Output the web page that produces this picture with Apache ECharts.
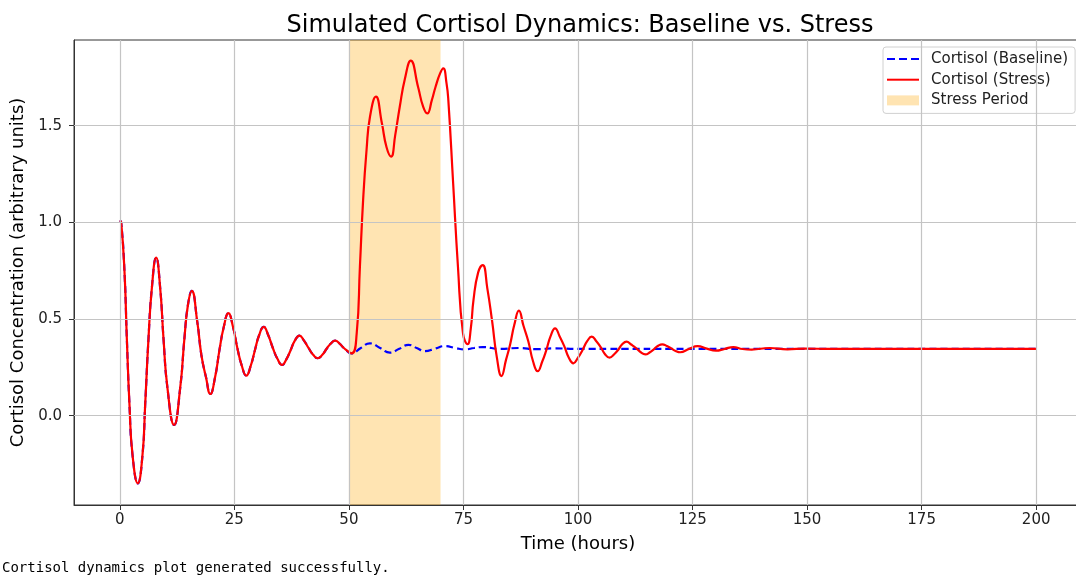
<!DOCTYPE html>
<html>
<head>
<meta charset="utf-8">
<title>Cortisol dynamics</title>
<script src="https://cdn.jsdelivr.net/npm/echarts@6/dist/echarts.min.js"></script>
<style>
html, body { margin: 0; padding: 0; background: #fff; }
#main { width: 1076px; height: 578px; }
</style>
</head>
<body>
<div id="main"></div>
<script>
// readings from the plot: time in hours, concentration in arbitrary units
// first 50 h both runs are the same curve
var sharedTimes = [0, 0.3, 1.02, 1.53, 2.11, 2.77, 3.93, 4.95, 5.53, 6.26, 6.99, 7.93, 8.81, 9.53, 10.4,
    11.85, 13.17, 14.1, 14.85, 15.7, 16.9, 17.8, 18.8, 19.75, 20.8, 21.75, 22.7, 23.7, 24.7, 25.65,
    26.6, 27.6, 28.6, 29.5, 30.4, 31.4, 32.4, 33.4, 34.4, 35.4, 36.4, 37.3, 38.2, 39.2, 40.2, 41.2,
    42.2, 43.2, 44.2, 45.1, 46.0, 47.0, 48.0, 48.9, 50.6];
var sharedVals = [1.01, 1.0, 0.745, 0.40, 0.055, -0.203, -0.35, -0.203, 0.055, 0.40, 0.66, 0.817, 0.66, 0.40, 0.142,
    -0.048, 0.142, 0.40, 0.57, 0.645, 0.486, 0.314, 0.2, 0.112, 0.2, 0.34, 0.46, 0.53, 0.46, 0.35,
    0.26, 0.207, 0.26, 0.34, 0.416, 0.459, 0.416, 0.35, 0.294, 0.262, 0.294, 0.34, 0.388, 0.414, 0.388, 0.35,
    0.315, 0.297, 0.315, 0.345, 0.372, 0.388, 0.372, 0.35, 0.322];

var baselineTimes = [52.6, 54.6, 56.8, 58.95, 61.0, 63.0, 64.8, 66.6, 68.8, 71.0, 73.2, 75.4, 77.3, 79.2,
    83, 87, 91, 95, 100, 110, 120, 140, 160, 180, 200];
var baselineVals = [0.35, 0.374, 0.35, 0.326, 0.346, 0.366, 0.35, 0.334, 0.347, 0.36, 0.35, 0.343, 0.35, 0.355,
    0.345, 0.35, 0.344, 0.348, 0.345, 0.346, 0.345, 0.345, 0.345, 0.345, 0.345];

var stressTimes = [51.7, 52.4, 53.1, 53.85, 54.6, 55.9, 57.2, 58.2, 59.2, 60.1, 61.1, 62.2, 63.5, 65.1,
    66.2, 67.1, 68.1, 68.9, 69.9, 70.6, 71.3, 71.7, 72.75, 73.8, 74.9, 75.9, 76.6, 77.2, 78.2, 79.2,
    80.2, 81.25, 82.3, 83.3, 84.3, 85.2, 86.1, 87.1, 88.1, 89.15, 90.2, 91.2, 92.2, 93.1, 94.0, 95.0,
    96.0, 97.0, 98.0, 99.0, 100.0, 101.0, 102.0, 103.0, 104.0, 104.95, 105.9, 106.9, 107.9, 108.75,
    109.6, 110.6, 111.6, 112.65, 113.7, 114.7, 115.7, 116.55, 117.4, 118.4, 119.4, 120.35, 121.3,
    122.3, 124.2, 126.1, 128.1, 130.1, 132.0, 133.9, 135.9, 137.9, 141.8, 145.7, 149.6, 155, 170, 185, 200];
var stressVals = [0.426, 0.77, 1.115, 1.374, 1.546, 1.65, 1.512, 1.39, 1.34, 1.45, 1.598, 1.74, 1.836, 1.70,
    1.598, 1.563, 1.632, 1.70, 1.77, 1.796, 1.72, 1.632, 1.202, 0.77, 0.426, 0.37, 0.45, 0.6, 0.74, 0.779,
    0.66, 0.49, 0.30, 0.205, 0.29, 0.37, 0.47, 0.543, 0.465, 0.385, 0.28, 0.23, 0.28, 0.34, 0.41, 0.452,
    0.41, 0.36, 0.30, 0.271, 0.30, 0.34, 0.385, 0.409, 0.385, 0.355, 0.318, 0.30, 0.318, 0.34,
    0.368, 0.383, 0.368, 0.35, 0.328, 0.317, 0.328, 0.343, 0.36, 0.369, 0.36, 0.348, 0.335,
    0.328, 0.345, 0.36, 0.347, 0.336, 0.345, 0.355, 0.345, 0.342, 0.35, 0.343, 0.347, 0.345, 0.345, 0.345, 0.345];

var stressPeriod = [50, 70];
var xTicks = [0, 25, 50, 75, 100, 125, 150, 175, 200];
var yTicks = [0, 0.5, 1.0, 1.5];

function toPairs(ts, vs) {
    var out = [];
    for (var i = 0; i < ts.length; i++) {
        out.push([ts[i], vs[i]]);
    }
    return out;
}

var baselineData = toPairs(sharedTimes, sharedVals).concat(toPairs(baselineTimes, baselineVals));
var stressData = toPairs(sharedTimes, sharedVals).concat(toPairs(stressTimes, stressVals));

// grid lines as mark lines so they sit on the tick values exactly
var gridLines = [];
xTicks.forEach(function (v) { gridLines.push({ xAxis: v }); });
yTicks.forEach(function (v) { gridLines.push({ yAxis: v }); });

var font = 'DejaVu Sans';
// legend icons: plain line shapes, no marker
var dashIcon = 'path://M0,0h8v2h-8z M12,0h8v2h-8z M24,0h8v2h-8z';
var lineIcon = 'path://M0,0h32v2h-32z';
var myChart = echarts.init(document.getElementById('main'));
var option = {
    animation: false,
    backgroundColor: '#fff',
    title: {
        text: 'Simulated Cortisol Dynamics: Baseline vs. Stress',
        left: 575,
        textAlign: 'center',
        top: 9,
        textStyle: { fontFamily: font, fontSize: 24, fontWeight: 'normal', color: '#000' }
    },
    legend: {
        orient: 'vertical',
        left: 883,
        top: 47,
        padding: [3, 7, 4, 4],
        itemGap: 2.7,
        itemWidth: 32,
        itemHeight: 10,
        borderColor: '#d0d0d0',
        borderWidth: 1,
        borderRadius: 3,
        backgroundColor: 'rgba(255,255,255,0.85)',
        textStyle: { fontFamily: font, fontSize: 15, color: '#222', lineHeight: 18, padding: [0, 0, 0, 7] },
        data: [
            { name: 'Cortisol (Baseline)', icon: dashIcon },
            { name: 'Cortisol (Stress)', icon: lineIcon },
            { name: 'Stress Period', icon: 'rect' }
        ]
    },
    grid: {
        left: 74,
        right: -6,
        top: 40,
        bottom: 73,
        containLabel: false,
        outerBoundsMode: 'none',
        show: true,
        borderColor: '#333',
        borderWidth: 1
    },
    xAxis: {
        type: 'value',
        min: -10,
        max: 210,
        name: 'Time (hours)',
        nameLocation: 'middle',
        nameGap: 30,
        nameTextStyle: { fontFamily: font, fontSize: 18, color: '#000' },
        axisLine: { show: true, onZero: false, lineStyle: { color: '#333' } },
        axisTick: { show: true, length: 5, customValues: xTicks, lineStyle: { color: '#333' } },
        axisLabel: { customValues: xTicks, margin: 8, fontFamily: font, fontSize: 15, color: '#222' },
        splitLine: { show: false }
    },
    yAxis: {
        type: 'value',
        min: -0.462,
        max: 1.943,
        name: 'Cortisol Concentration (arbitrary units)',
        nameLocation: 'middle',
        nameGap: 46,
        nameTextStyle: { fontFamily: font, fontSize: 18, color: '#000' },
        axisLine: { show: true, onZero: false, lineStyle: { color: '#333' } },
        axisTick: { show: true, length: 5, customValues: yTicks, lineStyle: { color: '#333' } },
        axisLabel: {
            customValues: yTicks, margin: 12, fontFamily: font, fontSize: 15, color: '#222',
            formatter: function (v) { return v.toFixed(1); }
        },
        splitLine: { show: false }
    },
    series: [
        {
            name: 'Stress Period',
            type: 'line',
            data: [],
            z: 1,
            itemStyle: { color: 'rgba(255,165,0,0.3)' },
            markArea: {
                silent: true,
                itemStyle: { color: 'rgba(255,165,0,0.3)' },
                data: [[{ xAxis: stressPeriod[0] }, { xAxis: stressPeriod[1] }]]
            },
            markLine: {
                silent: true,
                symbol: ['none', 'none'],
                label: { show: false },
                lineStyle: { color: '#c4c4c4', width: 1.2, type: 'solid' },
                data: gridLines
            }
        },
        {
            name: 'Cortisol (Baseline)',
            type: 'line',
            data: baselineData,
            showSymbol: false,
            symbol: 'none',
            smooth: 0.5,
            z: 3,
            itemStyle: { color: '#0000ff' },
            lineStyle: { color: '#0000ff', width: 2.2, type: [7, 4] }
        },
        {
            name: 'Cortisol (Stress)',
            type: 'line',
            data: stressData,
            showSymbol: false,
            symbol: 'none',
            smooth: 0.5,
            z: 4,
            itemStyle: { color: '#ff0000' },
            lineStyle: { color: '#ff0000', width: 2.2 }
        }
    ],
    graphic: [{
        type: 'text',
        left: 2,
        top: 561,
        style: {
            text: 'Cortisol dynamics plot generated successfully.',
            font: '14px "DejaVu Sans Mono"',
            fill: '#000'
        }
    }]
};
myChart.setOption(option);
</script>
</body>
</html>
